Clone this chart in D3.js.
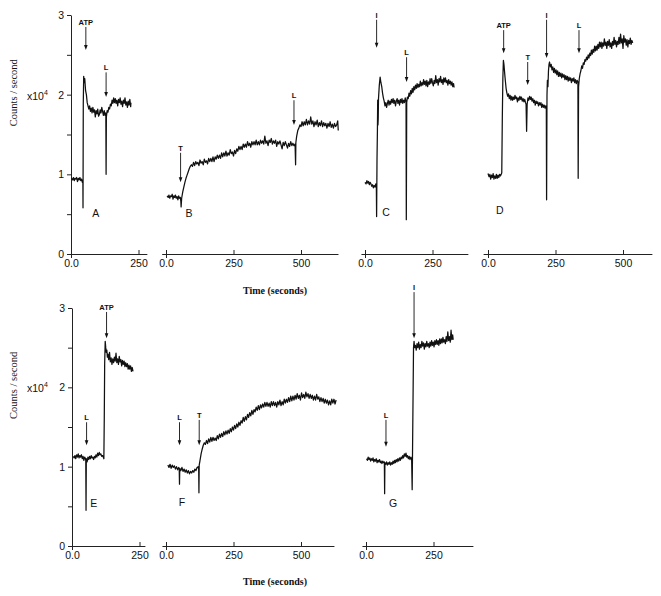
<html>
  <head>
    <title>Counts per second traces</title>
    <script src="https://d3js.org/d3.v7.min.js"></script>
    <style>
      body {
        margin: 0;
        background-color: #fff;
      }
      .tick text, .lbl {
        font-family: "Liberation Sans", Arial, sans-serif;
      }
    </style>
  </head>

  <body>
    <svg width="661" height="596"></svg>

    <script>
      // ---- data: [time (s), counts/s x10^4] ----
      var traceA = [[2,0.95],[6,0.93],[9,0.96],[12,0.92],[15,0.95],[18,0.94],[21,0.96],[24,0.91],[27,0.95],[30,0.93],[33,0.96],[36,0.92],[39,0.94],[42,0.90],[44,0.93],[44.5,0.58],[45.5,1.9],[47,2.23],[49,2.15],[51,2.2],[54,2.05],[57,2.0],[60,1.9],[63,1.86],[66,1.82],[69,1.86],[72,1.79],[75,1.83],[78,1.77],[81,1.84],[84,1.78],[87,1.81],[90,1.72],[93,1.8],[96,1.76],[99,1.82],[102,1.73],[105,1.75],[108,1.81],[111,1.77],[114,1.84],[117,1.79],[120,1.74],[123,1.8],[126,1.74],[129,1.77],[130,1.0],[131,1.72],[134,1.8],[137,1.78],[140,1.84],[143,1.82],[146,1.88],[149,1.86],[152,1.93],[155,1.89],[158,1.96],[161,1.9],[164,1.95],[167,1.89],[170,1.93],[173,1.86],[176,1.94],[179,1.9],[182,1.96],[185,1.88],[188,1.92],[191,1.85],[194,1.93],[197,1.89],[200,1.96],[203,1.87],[206,1.91],[209,1.84],[212,1.92],[215,1.87],[218,1.94],[221,1.85],[222,1.9]];

      var traceB = [[4,0.73],[8,0.71],[11,0.74],[14,0.70],[17,0.73],[20,0.72],[23,0.75],[26,0.69],[29,0.73],[32,0.71],[35,0.74],[38,0.70],[41,0.72],[44,0.68],[47,0.73],[50,0.70],[53,0.71],[55,0.66],[56,0.59],[58,0.7],[62,0.78],[66,0.84],[70,0.9],[74,0.95],[78,0.99],[82,1.03],[86,1.07],[90,1.1],[94,1.12],[98,1.1],[102,1.15],[106,1.11],[110,1.16],[114,1.13],[118,1.15],[122,1.11],[126,1.18],[130,1.14],[134,1.16],[138,1.12],[142,1.19],[146,1.15],[150,1.17],[154,1.13],[158,1.2],[162,1.16],[166,1.2],[170,1.16],[174,1.22],[178,1.16],[182,1.22],[186,1.19],[190,1.24],[194,1.2],[198,1.24],[202,1.2],[206,1.27],[210,1.22],[214,1.27],[218,1.23],[222,1.29],[226,1.23],[230,1.27],[234,1.24],[238,1.31],[242,1.26],[246,1.28],[250,1.23],[254,1.3],[258,1.26],[262,1.32],[266,1.29],[270,1.35],[274,1.31],[278,1.35],[282,1.31],[286,1.38],[290,1.34],[294,1.38],[298,1.34],[302,1.41],[306,1.36],[310,1.39],[314,1.34],[318,1.41],[322,1.37],[326,1.41],[330,1.37],[334,1.43],[338,1.37],[342,1.41],[346,1.37],[350,1.43],[354,1.39],[358,1.42],[362,1.38],[366,1.48],[370,1.39],[374,1.42],[378,1.36],[382,1.43],[386,1.4],[390,1.45],[394,1.38],[398,1.42],[402,1.39],[406,1.43],[410,1.35],[414,1.41],[418,1.38],[422,1.42],[426,1.37],[430,1.32],[434,1.4],[438,1.36],[442,1.41],[446,1.37],[450,1.33],[454,1.39],[458,1.35],[462,1.41],[466,1.36],[470,1.39],[474,1.36],[478,1.38],[480,1.12],[481,1.4],[484,1.48],[488,1.55],[492,1.58],[496,1.62],[500,1.6],[504,1.66],[508,1.61],[512,1.66],[516,1.62],[520,1.69],[524,1.62],[528,1.67],[532,1.63],[536,1.72],[540,1.63],[544,1.67],[548,1.6],[552,1.66],[556,1.62],[560,1.68],[564,1.6],[568,1.65],[572,1.61],[576,1.67],[580,1.6],[584,1.65],[588,1.61],[592,1.64],[596,1.58],[600,1.64],[604,1.6],[608,1.66],[612,1.59],[616,1.63],[620,1.58],[624,1.64],[628,1.6],[632,1.62],[636,1.67],[638,1.55]];

      var traceC = [[0,0.9],[4,0.88],[7,0.92],[10,0.89],[13,0.91],[16,0.87],[19,0.9],[22,0.88],[25,0.85],[28,0.87],[31,0.83],[34,0.86],[37,0.84],[40,0.88],[42,0.86],[43,0.47],[44.5,1.2],[46,1.55],[47,1.93],[48,1.62],[49,1.7],[50,1.95],[53,2.12],[56,2.22],[59,2.15],[62,2.1],[65,2.02],[68,1.96],[71,1.92],[74,1.86],[77,1.9],[80,1.84],[83,1.89],[86,1.93],[89,1.87],[92,1.92],[95,1.88],[98,1.94],[101,1.9],[104,1.95],[107,1.89],[110,1.93],[113,1.86],[116,1.92],[119,1.95],[122,1.89],[125,1.93],[128,1.87],[131,1.94],[134,1.9],[137,1.95],[140,1.89],[143,1.93],[146,1.9],[149,1.96],[152,1.91],[153,0.43],[154.5,1.9],[157,1.97],[160,1.95],[163,2.02],[166,1.98],[169,2.05],[172,2.01],[175,2.08],[178,2.03],[181,2.1],[184,2.06],[187,2.12],[190,2.08],[193,2.14],[196,2.09],[199,2.13],[202,2.1],[205,2.17],[208,2.11],[211,2.15],[214,2.12],[217,2.19],[220,2.13],[223,2.17],[226,2.11],[229,2.18],[232,2.1],[235,2.16],[238,2.13],[241,2.2],[244,2.14],[247,2.2],[250,2.15],[253,2.11],[256,2.18],[259,2.14],[262,2.24],[265,2.15],[268,2.19],[271,2.12],[274,2.2],[277,2.16],[280,2.23],[283,2.15],[286,2.19],[289,2.13],[292,2.21],[295,2.16],[298,2.21],[301,2.15],[304,2.18],[307,2.12],[310,2.19],[313,2.14],[316,2.17],[319,2.12],[322,2.16],[325,2.1],[328,2.14],[330,2.09]];

      var traceD = [[0,1.01],[4,0.97],[7,1.0],[10,0.94],[13,0.99],[16,0.96],[19,1.01],[22,0.94],[25,0.98],[28,0.95],[31,1.0],[34,0.95],[37,0.99],[40,0.96],[43,1.0],[46,0.98],[49,1.0],[51,1.02],[53,1.7],[55,2.2],[57,2.43],[59,2.38],[61,2.3],[63,2.22],[65,2.15],[67,2.08],[70,2.02],[73,1.98],[76,2.01],[79,1.95],[82,1.99],[85,1.93],[88,1.98],[91,1.93],[94,1.97],[97,1.94],[100,1.99],[103,1.95],[106,1.97],[109,1.91],[112,1.96],[115,1.93],[118,1.98],[121,1.94],[124,1.97],[127,1.92],[130,1.95],[133,1.91],[136,1.94],[139,1.9],[141,1.88],[143,1.54],[145,1.88],[148,1.96],[151,1.93],[154,1.98],[157,1.94],[160,1.97],[163,1.92],[166,1.95],[169,1.9],[172,1.93],[175,1.87],[178,1.92],[181,1.89],[184,1.91],[187,1.86],[190,1.9],[193,1.87],[196,1.9],[199,1.84],[202,1.88],[205,1.84],[208,1.87],[211,1.83],[214,1.86],[216,1.84],[217,0.68],[218.5,2.0],[220,2.18],[222,2.1],[224,2.3],[226,2.38],[228,2.41],[231,2.35],[234,2.38],[237,2.31],[240,2.35],[243,2.28],[246,2.33],[249,2.27],[252,2.31],[255,2.25],[258,2.3],[261,2.23],[264,2.28],[267,2.23],[270,2.27],[273,2.21],[276,2.26],[279,2.22],[282,2.25],[285,2.19],[288,2.24],[291,2.19],[294,2.23],[297,2.17],[300,2.22],[303,2.18],[306,2.21],[309,2.15],[312,2.2],[315,2.17],[318,2.21],[321,2.15],[324,2.19],[327,2.14],[330,2.18],[333,2.16],[334,0.95],[335.5,2.1],[338,2.2],[341,2.26],[344,2.3],[347,2.36],[350,2.33],[353,2.4],[356,2.38],[359,2.44],[362,2.42],[365,2.47],[368,2.44],[371,2.5],[374,2.46],[377,2.52],[380,2.49],[383,2.56],[386,2.51],[389,2.57],[392,2.53],[395,2.61],[398,2.55],[401,2.61],[404,2.56],[407,2.63],[410,2.58],[413,2.66],[416,2.6],[419,2.66],[422,2.58],[425,2.65],[428,2.61],[431,2.7],[434,2.62],[437,2.66],[440,2.58],[443,2.67],[446,2.62],[449,2.69],[452,2.6],[455,2.65],[458,2.58],[461,2.67],[464,2.62],[467,2.72],[470,2.63],[473,2.68],[476,2.6],[479,2.67],[482,2.63],[485,2.72],[488,2.64],[491,2.76],[494,2.65],[497,2.7],[500,2.58],[503,2.74],[506,2.66],[509,2.7],[512,2.62],[515,2.69],[518,2.6],[521,2.68],[524,2.64],[527,2.71],[530,2.63],[533,2.68],[536,2.65]];

      var traceE = [[5,1.13],[8,1.11],[11,1.14],[14,1.1],[17,1.15],[20,1.12],[23,1.16],[26,1.11],[29,1.14],[32,1.12],[35,1.15],[38,1.1],[41,1.13],[44,1.08],[47,1.12],[50,1.1],[51,1.08],[52,0.45],[53,1.1],[56,1.06],[59,1.12],[62,1.09],[65,1.13],[68,1.1],[71,1.14],[74,1.11],[77,1.12],[80,1.09],[83,1.13],[86,1.11],[89,1.15],[92,1.12],[95,1.17],[98,1.14],[101,1.18],[104,1.15],[107,1.16],[110,1.13],[113,1.14],[116,1.12],[118,1.1],[119.5,1.6],[121,2.3],[123,2.58],[125,2.5],[127,2.44],[129,2.47],[131,2.38],[133,2.42],[136,2.35],[139,2.44],[142,2.32],[145,2.37],[148,2.29],[151,2.36],[154,2.31],[157,2.38],[160,2.33],[163,2.43],[166,2.31],[169,2.36],[172,2.29],[175,2.39],[178,2.32],[181,2.35],[184,2.27],[187,2.34],[190,2.29],[193,2.33],[196,2.26],[199,2.31],[202,2.26],[205,2.3],[208,2.23],[211,2.28],[214,2.23],[217,2.27],[220,2.2],[223,2.25],[226,2.2]];

      var traceF = [[7,1.02],[11,0.99],[15,1.03],[19,0.98],[23,1.02],[27,0.99],[31,1.01],[35,0.97],[39,1.0],[43,0.96],[47,0.99],[49,0.97],[50,0.78],[51,0.98],[55,0.95],[59,0.99],[63,0.94],[67,0.97],[71,0.93],[75,0.96],[79,0.92],[83,0.95],[87,0.91],[91,0.94],[95,0.92],[99,0.95],[103,0.93],[107,0.97],[111,0.95],[115,0.99],[119,1.0],[121,0.97],[122,0.67],[123,1.02],[126,1.08],[130,1.16],[134,1.22],[138,1.27],[142,1.3],[146,1.28],[150,1.33],[154,1.29],[158,1.35],[162,1.31],[166,1.37],[170,1.32],[174,1.37],[178,1.33],[182,1.36],[186,1.33],[190,1.39],[194,1.35],[198,1.41],[202,1.37],[206,1.42],[210,1.38],[214,1.44],[218,1.4],[222,1.45],[226,1.41],[230,1.46],[234,1.42],[238,1.48],[242,1.44],[246,1.5],[250,1.46],[254,1.52],[258,1.48],[262,1.54],[266,1.5],[270,1.56],[274,1.52],[278,1.58],[282,1.55],[286,1.62],[290,1.57],[294,1.63],[298,1.59],[302,1.66],[306,1.62],[310,1.68],[314,1.64],[318,1.71],[322,1.66],[326,1.72],[330,1.69],[334,1.75],[338,1.71],[342,1.77],[346,1.72],[350,1.78],[354,1.74],[358,1.79],[362,1.75],[366,1.81],[370,1.76],[374,1.81],[378,1.76],[382,1.8],[386,1.75],[390,1.82],[394,1.77],[398,1.82],[402,1.77],[406,1.81],[410,1.75],[414,1.82],[418,1.78],[422,1.84],[426,1.77],[430,1.82],[434,1.78],[438,1.85],[442,1.8],[446,1.85],[450,1.81],[454,1.87],[458,1.82],[462,1.89],[466,1.83],[470,1.89],[474,1.84],[478,1.9],[482,1.85],[486,1.92],[490,1.86],[494,1.9],[498,1.84],[502,1.93],[506,1.87],[510,1.91],[514,1.86],[518,1.94],[522,1.88],[526,1.92],[530,1.86],[534,1.91],[538,1.86],[542,1.9],[546,1.84],[550,1.89],[554,1.84],[558,1.91],[562,1.85],[566,1.88],[570,1.82],[574,1.87],[578,1.82],[582,1.86],[586,1.8],[590,1.85],[594,1.8],[598,1.84],[602,1.78],[606,1.83],[610,1.78],[614,1.85],[618,1.8],[622,1.85],[626,1.79],[630,1.84]];

      var traceG = [[2,1.1],[5,1.08],[8,1.12],[11,1.09],[14,1.11],[17,1.07],[20,1.1],[23,1.08],[26,1.11],[29,1.06],[32,1.09],[35,1.07],[38,1.1],[41,1.05],[44,1.08],[47,1.06],[50,1.09],[53,1.05],[56,1.07],[59,1.04],[62,1.07],[65,1.05],[68,1.06],[69,0.66],[70,1.05],[73,1.03],[76,1.06],[79,1.02],[82,1.05],[85,1.03],[88,1.06],[91,1.02],[94,1.05],[97,1.03],[100,1.07],[103,1.04],[106,1.08],[109,1.05],[112,1.09],[115,1.06],[118,1.1],[121,1.07],[124,1.11],[127,1.08],[130,1.12],[133,1.1],[136,1.14],[139,1.11],[142,1.16],[145,1.13],[148,1.17],[151,1.12],[154,1.14],[157,1.1],[160,1.13],[163,1.09],[166,1.12],[169,1.1],[171,0.71],[176,2.5],[178,2.58],[180,2.5],[183,2.53],[186,2.47],[189,2.55],[192,2.5],[195,2.57],[198,2.48],[201,2.54],[204,2.5],[207,2.58],[210,2.52],[213,2.56],[216,2.48],[219,2.55],[222,2.51],[225,2.58],[228,2.52],[231,2.55],[234,2.5],[237,2.57],[240,2.52],[243,2.59],[246,2.53],[249,2.57],[252,2.51],[255,2.59],[258,2.54],[261,2.6],[264,2.54],[267,2.59],[270,2.53],[273,2.61],[276,2.55],[279,2.61],[282,2.56],[285,2.63],[288,2.57],[291,2.6],[294,2.55],[297,2.64],[300,2.58],[303,2.7],[306,2.59],[309,2.64],[312,2.57],[315,2.72],[318,2.6],[321,2.66],[323,2.6]];

      // arrows: [time, label, top of shaft, tip]
      var arrowsA = [[55,"ATP",2.85,2.56],[130,"L",2.28,1.97]];
      var arrowsB = [[54,"T",1.27,0.90],[474,"L",1.93,1.62]];
      var arrowsC = [[43,"I",2.94,2.59],[154,"L",2.47,2.16]];
      var arrowsD = [[58,"ATP",2.81,2.52],[147,"T",2.41,2.12],[217,"I",2.94,2.46],[337,"L",2.81,2.52]];
      var arrowsE = [[54,"L",1.56,1.27],[128,"ATP",2.95,2.62]];
      var arrowsF = [[50,"L",1.56,1.27],[123,"T",1.59,1.27]];
      var arrowsG = [[74,"L",1.59,1.25],[178,"I",3.2,2.62]];

      var xTicksShort = [0,250];
      var xTicksLong = [0,250,500];
      var yTicks = [0,0.5,1,1.5,2,2.5,3];

      // ---- layout ----
      var svg = d3.select("svg");
      var k = 0.27; // px per second, same for every panel

      var rowTop = d3.scaleLinear().domain([0,3]).range([254,15]);
      var rowBot = d3.scaleLinear().domain([0,3]).range([546,308]);

      var panels = [
        {letter:"A", data:traceA, arrows:arrowsA, y:rowTop, x0:71,  t:[0,281],   ticks:xTicksShort, yAxis:true, pos:[92,0.47]},
        {letter:"B", data:traceB, arrows:arrowsB, y:rowTop, x0:166, t:[-16,637], ticks:xTicksLong, pos:[85,0.47]},
        {letter:"C", data:traceC, arrows:arrowsC, y:rowTop, x0:365, t:[-15,381], ticks:xTicksShort, pos:[78,0.48]},
        {letter:"D", data:traceD, arrows:arrowsD, y:rowTop, x0:488, t:[-18,607], ticks:xTicksLong, pos:[44,0.5]},
        {letter:"E", data:traceE, arrows:arrowsE, y:rowBot, x0:72,  t:[0,270],   ticks:xTicksShort, yAxis:true, pos:[81,0.49]},
        {letter:"F", data:traceF, arrows:arrowsF, y:rowBot, x0:166, t:[-15,622], ticks:xTicksLong, pos:[59,0.5]},
        {letter:"G", data:traceG, arrows:arrowsG, y:rowBot, x0:366, t:[-15,396], ticks:xTicksShort, pos:[100,0.49]}
      ];

      var drawPanel = function(p){
        var x = d3.scaleLinear().domain(p.t).range([p.x0 + p.t[0]*k, p.x0 + p.t[1]*k]);
        var y = p.y;
        var g = svg.append("g");

        // x axis, ticks pointing up, the zero tick crosses the line
        var xa = g.append("g")
          .attr("transform", "translate(0," + y(0) + ")")
          .call(d3.axisBottom(x).tickValues(p.ticks).tickSize(-4).tickSizeOuter(0).tickPadding(6)
            .tickFormat(function(d){ return d === 0 ? "0.0" : d; }));
        xa.selectAll(".tick").filter(function(d){ return d === 0; })
          .append("line").attr("stroke", "#000").attr("y2", 4);
        xa.selectAll("text").attr("font-size", 10.5).attr("fill", "#111");

        if(p.yAxis){
          var ya = g.append("g")
            .attr("transform", "translate(" + x(0) + ",0)")
            .call(d3.axisLeft(y).tickValues(yTicks).tickSize(4).tickSizeOuter(0).tickPadding(3)
              .tickFormat(function(d){ return d % 1 === 0 ? d : ""; }));
          ya.selectAll("text").attr("font-size", 10.5).attr("fill", "#111");
        }
        g.selectAll(".domain, .tick line").attr("stroke", "#222");

        // trace
        var line = d3.line().x(function(d){ return x(d[0]); }).y(function(d){ return y(d[1]); });
        g.append("path").datum(p.data)
          .attr("d", line)
          .attr("fill", "none")
          .attr("stroke", "#111")
          .attr("stroke-width", 1.25)
          .attr("stroke-linejoin", "round");

        // arrows with labels
        var ar = g.selectAll(".arr").data(p.arrows).enter().append("g");
        ar.append("line")
          .attr("x1", function(d){ return x(d[0]); })
          .attr("x2", function(d){ return x(d[0]); })
          .attr("y1", function(d){ return y(d[2]); })
          .attr("y2", function(d){ return y(d[3]) - 3; })
          .attr("stroke", "#111").attr("stroke-width", 0.9);
        ar.append("path")
          .attr("d", function(d){
            var cx = x(d[0]), ty = y(d[3]);
            return "M" + (cx - 1.8) + "," + (ty - 5) + "L" + (cx + 1.8) + "," + (ty - 5) + "L" + cx + "," + ty + "Z";
          })
          .attr("fill", "#111");
        ar.append("text")
          .attr("class", "lbl")
          .attr("x", function(d){ return x(d[0]); })
          .attr("y", function(d){ return y(d[2]) - 2; })
          .attr("text-anchor", "middle")
          .attr("font-size", 7.5)
          .attr("font-weight", "bold")
          .attr("fill", "#111")
          .text(function(d){ return d[1]; });

        // panel letter
        g.append("text")
          .attr("class", "lbl")
          .attr("x", x(p.pos[0]))
          .attr("y", y(p.pos[1]))
          .attr("text-anchor", "middle")
          .attr("font-size", 10.5)
          .attr("fill", "#111")
          .text(p.letter);
      };

      panels.forEach(drawPanel);

      // ---- row titles ----
      [rowTop, rowBot].forEach(function(y){
        svg.append("text")
          .attr("transform", "translate(17," + (y(2) - 2) + ") rotate(-90)")
          .attr("text-anchor", "middle")
          .attr("font-family", "'Liberation Serif', 'Times New Roman', serif")
          .attr("font-size", 10.5)
          .attr("fill", "#111")
          .text("Counts / second");
        var t = svg.append("text")
          .attr("class", "lbl")
          .attr("x", 27)
          .attr("y", y(2) + 5)
          .attr("font-size", 10.5)
          .attr("fill", "#111");
        t.append("tspan").text("x10");
        t.append("tspan").attr("font-size", 7).attr("dy", -5).text("4");
      });

      svg.append("text")
        .attr("x", 275).attr("y", 294)
        .attr("text-anchor", "middle")
        .attr("font-family", "'Liberation Serif', 'Times New Roman', serif")
        .attr("font-weight", "bold")
        .attr("font-size", 10)
        .attr("fill", "#111")
        .text("Time (seconds)");
      svg.append("text")
        .attr("x", 275).attr("y", 585)
        .attr("text-anchor", "middle")
        .attr("font-family", "'Liberation Serif', 'Times New Roman', serif")
        .attr("font-weight", "bold")
        .attr("font-size", 10)
        .attr("fill", "#111")
        .text("Time (seconds)");
    </script>
  </body>
</html>
